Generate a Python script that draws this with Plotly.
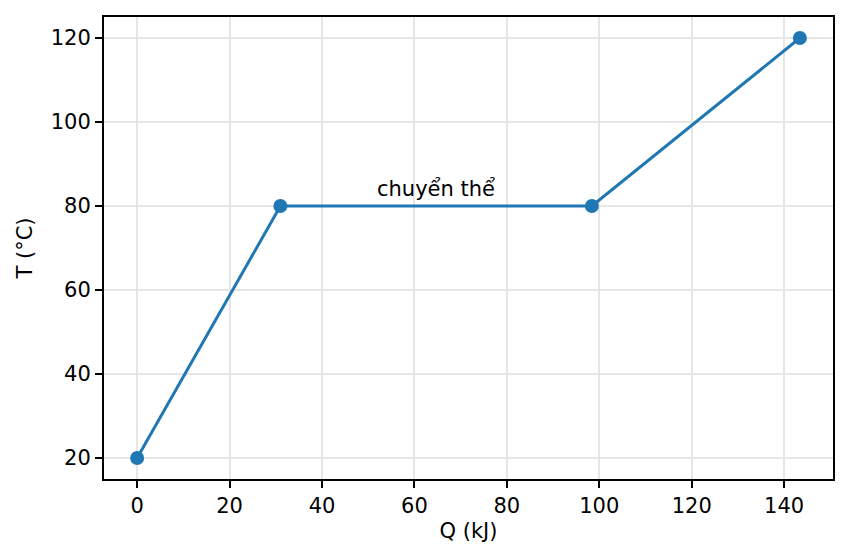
import plotly.graph_objects as go

# heating curve points
q_kj = [0, 31, 98.4, 143.4]
temp_c = [20, 80, 80, 120]
phase_label = "chuyển thể"

FONT = "DejaVu Sans"
FS = 21

fig = go.Figure()
fig.add_trace(go.Scatter(x=q_kj, y=temp_c, mode="lines+markers",
                         line=dict(color="#1f77b4", width=3),
                         marker=dict(color="#1f77b4", size=14),
                         showlegend=False))

# label the plateau in the middle
fig.add_annotation(x=(q_kj[1] + q_kj[2]) / 2, y=temp_c[1], text=phase_label,
                   showarrow=False, yanchor="bottom", yshift=3,
                   font=dict(family=FONT, size=FS, color="black"))

axis_style = dict(showline=True, linecolor="black", linewidth=2, mirror=True,
                  ticks="outside", ticklen=7, tickwidth=2, tickcolor="black",
                  showgrid=True, gridcolor="#e6e6e6", gridwidth=1.5,
                  zeroline=False, tickfont=dict(family=FONT, size=FS, color="black"))

fig.update_xaxes(range=[-7.17, 150.57], dtick=20, title=dict(text="Q (kJ)", standoff=6,
                 font=dict(family=FONT, size=FS, color="black")), **axis_style)
fig.update_yaxes(range=[15, 125], dtick=20, title=dict(text="T (°C)", standoff=12,
                 font=dict(family=FONT, size=FS, color="black")), **axis_style)

# page body adds a small offset, so margins are shifted to compensate
fig.update_layout(width=848, height=560, plot_bgcolor="white", paper_bgcolor="white",
                  margin=dict(l=96, r=23, t=7, b=89))

fig.write_html("out.html")
